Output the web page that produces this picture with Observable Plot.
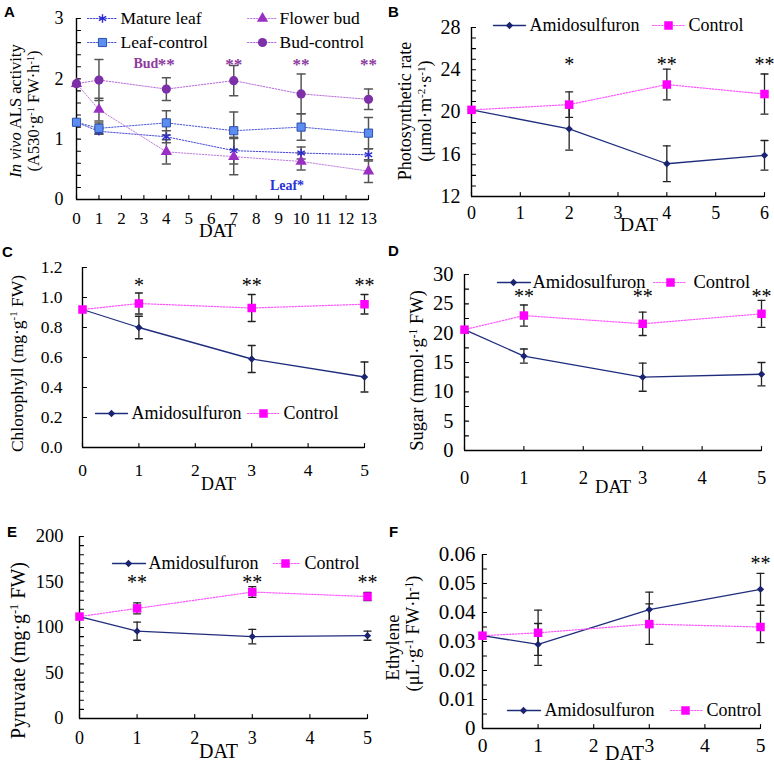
<!DOCTYPE html>
<html>
<head>
<meta charset="utf-8">
<script src="https://cdn.jsdelivr.net/npm/d3@7"></script>
<script src="https://cdn.jsdelivr.net/npm/@observablehq/plot@0.6"></script>
<style>
html,body{margin:0;padding:0;background:#fff;}
#root{position:relative;width:774px;height:764px;overflow:hidden;}
.panel{position:absolute;}
.letter{position:absolute;font-family:"Liberation Sans",Arial,sans-serif;font-weight:bold;font-size:15px;line-height:15px;color:#000;}
</style>
</head>
<body>
<div id="root"></div>
<script>
// ---------------- Panel A : in vivo ALS activity ----------------
const daysA = [0, 1, 4, 7, 10, 13];
const matureLeaf     = [1.28, 1.13, 1.04, 0.81, 0.77, 0.74];
const matureLeafErr  = [0, 0.05, 0.10, 0.22, 0.10, 0.10];
const leafControl    = [1.28, 1.18, 1.27, 1.14, 1.20, 1.10];
const leafControlErr = [0, 0.09, 0.20, 0.31, 0.22, 0.26];
const flowerBud      = [1.92, 1.49, 0.79, 0.71, 0.63, 0.47];
const flowerBudErr   = [0, 0.19, 0.20, 0.30, 0.14, 0.19];
const budControl     = [1.92, 1.98, 1.83, 1.97, 1.75, 1.66];
const budControlErr  = [0, 0.34, 0.19, 0.25, 0.33, 0.17];
const namesA = ["Mature leaf", "Leaf-control", "Flower bud", "Bud-control"];
const xTicksA = [0, 1, 2, 3, 4, 5, 6, 7, 8, 9, 10, 11, 12, 13];
const yTicksA = [0, 1, 2, 3];
const budStarDaysA = [4, 7, 10, 13];
const leafStarDaysA = [10];

// ---------------- Panel B : photosynthetic rate ----------------
const daysB = [0, 2, 4, 6];
const amidoB      = [20.2, 18.4, 15.1, 15.9];
const amidoBErr   = [0, 2.0, 1.7, 1.4];
const controlB    = [20.2, 20.7, 22.6, 21.7];
const controlBErr = [0, 1.2, 1.45, 1.9];
const xTicksB = [0, 1, 2, 3, 4, 5, 6];
const yTicksB = [12, 16, 20, 24, 28];
const starsB = [{x: 2, t: "*"}, {x: 4, t: "**"}, {x: 6, t: "**"}];

// ---------------- Panel C : chlorophyll ----------------
const daysC = [0, 1, 3, 5];
const amidoC      = [0.92, 0.80, 0.59, 0.47];
const amidoCErr   = [0, 0.075, 0.09, 0.10];
const controlC    = [0.92, 0.96, 0.93, 0.955];
const controlCErr = [0, 0.07, 0.09, 0.065];
const xTicksC = [0, 1, 2, 3, 4, 5];
const yTicksC = [0, 0.2, 0.4, 0.6, 0.8, 1.0, 1.2];
const starsC = [{x: 1, t: "*"}, {x: 3, t: "**"}, {x: 5, t: "**"}];

// ---------------- Panel D : sugar ----------------
const daysD = [0, 1, 3, 5];
const amidoD      = [20.6, 16.1, 12.5, 13.0];
const amidoDErr   = [0, 1.2, 2.4, 2.0];
const controlD    = [20.6, 23.0, 21.6, 23.3];
const controlDErr = [0, 1.8, 2.0, 2.3];
const xTicksD = [0, 1, 2, 3, 4, 5];
const yTicksD = [0, 5, 10, 15, 20, 25, 30];
const starsD = [{x: 1, t: "**"}, {x: 3, t: "**"}, {x: 5, t: "**"}];

// ---------------- Panel E : pyruvate ----------------
const daysE = [0, 1, 3, 5];
const amidoE      = [112, 96, 90, 91];
const amidoEErr   = [0, 10, 8, 5];
const controlE    = [112, 121, 139, 134];
const controlEErr = [0, 6, 6, 4.5];
const xTicksE = [0, 1, 2, 3, 4, 5];
const yTicksE = [0, 50, 100, 150, 200];
const starsE = [{x: 1, t: "**"}, {x: 3, t: "**"}, {x: 5, t: "**"}];

// ---------------- Panel F : ethylene ----------------
const daysF = [0, 1, 3, 5];
const amidoF      = [0.032, 0.029, 0.041, 0.048];
const amidoFErr   = [0, 0.0072, 0.006, 0.0055];
const controlF    = [0.032, 0.033, 0.036, 0.035];
const controlFErr = [0, 0.0078, 0.007, 0.0054];
const xTicksF = [0, 1, 2, 3, 4, 5];
const yTicksF = [0, 0.01, 0.02, 0.03, 0.04, 0.05, 0.06];
const starsF = [{x: 5, t: "**"}];

const treatNames = ["Amidosulfuron", "Control"];

// ---------------- helpers ----------------
const tick = {draw(c, l) { c.moveTo(0, 0); c.lineTo(0, -l); }};
const rowsOf = (xs, ys, es) => xs.map((x, i) => ({x, y: ys[i], e: es[i]}));
const FONT = "'Liberation Serif', 'Times New Roman', serif";

function amidoStyle(xs, ys, es) {
  return {name: treatNames[0], x: xs, y: ys, e: es, stroke: "#1f2d7d", width: 1.3, dash: null,
          symbol: "diamond2", r: 3.3, fill: "#1a2470", mstroke: "none", mwidth: 1};
}
function controlStyle(xs, ys, es) {
  return {name: treatNames[1], x: xs, y: ys, e: es, stroke: "#ff55ff", width: 1.2, dash: "1.5,1.5",
          symbol: "square", r: 4.8, fill: "#ff00ff", mstroke: "none", mwidth: 1};
}

function richify(svg) {
  d3.select(svg).selectAll("text").each(function () {
    const t = this.textContent;
    if (!/[\^~]\{/.test(t)) return;
    this.innerHTML = t
      .replace(/\^\{([^}]*)\}/g, '<tspan baseline-shift="super" font-size="0.62em">$1</tspan>')
      .replace(/~\{([^}]*)\}/g, '<tspan font-style="italic">$1</tspan>');
  });
}

function panel(cfg) {
  const x0 = cfg.xDomain[0], y0 = cfg.yDomain[0];
  const fs = cfg.fs; // font sizes
  const ax = {stroke: "#000", strokeWidth: 1.4};
  const marks = [
    Plot.ruleX([x0], ax),
    Plot.ruleY([y0], ax),
    Plot.vector(cfg.yMinor, {x: () => x0, y: d => d, length: 4, rotate: 90, anchor: "start", shape: tick, stroke: "#000", strokeWidth: 1.1}),
    Plot.vector(cfg.xMinor, {x: d => d, y: () => y0, length: 4, rotate: 0, anchor: "start", shape: tick, stroke: "#000", strokeWidth: 1.1}),
    Plot.axisX({ticks: cfg.xTicks, tickSize: 0, tickPadding: cfg.xPad, tickFormat: d => String(d), fontSize: fs.xt, fontFamily: FONT, fill: "#000", label: null}),
    Plot.axisY({ticks: cfg.yTicks, tickSize: 0, tickPadding: cfg.yPad, tickFormat: cfg.yFmt || (d => String(d)), fontSize: fs.yt, fontFamily: FONT, fill: "#000", label: null})
  ];
  const data = cfg.series.map(s => rowsOf(s.x, s.y, s.e));
  const es = {stroke: cfg.errColor, strokeWidth: cfg.errWidth};
  data.forEach(rows => {
    const d = rows.filter(r => r.e > 0);
    marks.push(Plot.ruleX(d, {x: "x", y1: r => r.y - r.e, y2: r => r.y + r.e, ...es}));
    marks.push(Plot.vector(d, {x: "x", y: r => r.y + r.e, length: cfg.cap, rotate: 90, anchor: "middle", shape: tick, ...es}));
    marks.push(Plot.vector(d, {x: "x", y: r => r.y - r.e, length: cfg.cap, rotate: 90, anchor: "middle", shape: tick, ...es}));
  });
  cfg.series.forEach((s, k) => marks.push(Plot.line(data[k], {x: "x", y: "y", stroke: s.stroke, strokeWidth: s.width, strokeDasharray: s.dash || undefined})));
  cfg.series.forEach((s, k) => marks.push(Plot.dot(data[k], {x: "x", y: "y", symbol: s.symbol, r: s.r, fill: s.fill, stroke: s.mstroke, strokeWidth: s.mwidth})));
  // legend (inside the frame)
  cfg.legend.forEach(L => {
    const s = cfg.series[L.k];
    marks.push(Plot.vector([s.name], {frameAnchor: "top-left", dx: L.lx, dy: L.ly, length: L.len, rotate: 90, anchor: "start", shape: tick, stroke: s.stroke, strokeWidth: s.width, strokeDasharray: s.dash || undefined}));
    marks.push(Plot.dot([s.name], {frameAnchor: "top-left", dx: L.mx, dy: L.ly, symbol: s.symbol, r: s.r, fill: s.fill, stroke: s.mstroke, strokeWidth: s.mwidth}));
    marks.push(Plot.text([s.name], {frameAnchor: "top-left", dx: L.tx, dy: L.ly, text: d => d, textAnchor: "start", lineAnchor: "middle", fontSize: fs.lg, fontFamily: FONT, fill: "#000"}));
  });
  // significance stars
  (cfg.stars || []).forEach(st => {
    marks.push(Plot.text(st.data, {x: "x", text: "t", frameAnchor: "top", dy: st.dy, dx: st.dx || 0, textAnchor: st.anchor || "middle",
      lineAnchor: "middle", fontSize: st.size, fontFamily: FONT, fontWeight: st.weight || "normal", fill: st.color || "#000"}));
  });
  // y title lines
  cfg.ylabels.forEach(yl => marks.push(Plot.text([yl.t], {text: d => d, frameAnchor: "left", dx: yl.dx, dy: yl.dy, rotate: -90,
    textAnchor: "middle", lineAnchor: "middle", fontSize: fs.lab, fontFamily: FONT, fill: "#000"})));
  // x title
  marks.push(Plot.text(["DAT"], {text: d => d, frameAnchor: "bottom", dx: cfg.dat[0], dy: cfg.dat[1], textAnchor: "middle", lineAnchor: "middle", fontSize: fs.dat, fontFamily: FONT, fill: "#000"}));

  const svg = Plot.plot({
    width: cfg.w, height: cfg.h,
    marginLeft: cfg.m[0], marginTop: cfg.m[1], marginRight: cfg.m[2], marginBottom: cfg.m[3],
    x: {domain: cfg.xDomain, label: null},
    y: {domain: cfg.yDomain, label: null},
    style: {fontFamily: FONT, fontSize: "17px", background: "transparent", overflow: "visible", color: "#000"},
    marks
  });
  richify(svg);
  const div = document.createElement("div");
  div.className = "panel";
  div.style.left = cfg.left + "px";
  div.style.top = cfg.top + "px";
  div.appendChild(svg);
  document.getElementById("root").appendChild(div);
}

function letter(t, x, y) {
  const d = document.createElement("div");
  d.className = "letter"; d.textContent = t;
  d.style.left = x + "px"; d.style.top = y + "px";
  document.getElementById("root").appendChild(d);
}

// ---------------- build panels ----------------
panel({
  left: 0, top: 0, w: 387, h: 250, m: [76, 18, 19, 51],
  fs: {xt: 17, yt: 18, lab: 16.5, dat: 19, lg: 17.5},
  xDomain: [0, 13], yDomain: [0, 3],
  xTicks: xTicksA, yTicks: yTicksA, xMinor: xTicksA, yMinor: d3.range(0, 3.001, 0.2),
  xPad: 12, yPad: 13,
  errColor: "#555", errWidth: 1.5, cap: 8,
  series: [
    {name: namesA[0], x: daysA, y: matureLeaf, e: matureLeafErr, stroke: "#4646d6", width: 1, dash: "1.5,1.5", symbol: "asterisk", r: 4, fill: "none", mstroke: "#2b2bd0", mwidth: 1.4},
    {name: namesA[1], x: daysA, y: leafControl, e: leafControlErr, stroke: "#4a58d2", width: 1, dash: "1.5,1.5", symbol: "square", r: 4.6, fill: "#5b8ef0", mstroke: "#2f4fb0", mwidth: 1},
    {name: namesA[2], x: daysA, y: flowerBud, e: flowerBudErr, stroke: "#c27ee0", width: 1, dash: "1.5,1.5", symbol: "triangle", r: 4.2, fill: "#9a2fc4", mstroke: "none", mwidth: 1},
    {name: namesA[3], x: daysA, y: budControl, e: budControlErr, stroke: "#b86ad8", width: 1, dash: "1.5,1.5", symbol: "circle", r: 4.6, fill: "#7d30a8", mstroke: "none", mwidth: 1}
  ],
  legend: [
    {k: 0, ly: 0, lx: 11, len: 30, mx: 26, tx: 44},
    {k: 1, ly: 24, lx: 11, len: 30, mx: 26, tx: 44},
    {k: 2, ly: 0, lx: 171, len: 30, mx: 186, tx: 203},
    {k: 3, ly: 24, lx: 171, len: 30, mx: 186, tx: 203}
  ],
  stars: [
    {data: budStarDaysA.map(x => ({x, t: "**"})), dy: 46, size: 17, weight: "bold", color: "#8e3a9e"},
    {data: [{x: budStarDaysA[0], t: "Bud"}], dy: 45, dx: -8, anchor: "end", size: 14, weight: "bold", color: "#8e3a9e"},
    {data: leafStarDaysA.map(x => ({x, t: "Leaf*"})), dy: 167, dx: 3, anchor: "end", size: 14, weight: "bold", color: "#2a33d6"}
  ],
  ylabels: [
    {t: "~{In vivo} ALS activity", dx: -61, dy: 2},
    {t: "(A530·g^{-1} FW·h^{-1})", dx: -43, dy: 2}
  ],
  dat: [-5, 31]
});

panel({
  left: 385, top: 0, w: 389, h: 250, m: [86, 27, 10, 54],
  fs: {xt: 18, yt: 20, lab: 18, dat: 19.5, lg: 18},
  xDomain: [0, 6], yDomain: [12, 28],
  xTicks: xTicksB, yTicks: yTicksB, xMinor: xTicksB, yMinor: d3.range(12, 28.001, 1),
  xPad: 10, yPad: 11,
  errColor: "#222", errWidth: 1.3, cap: 7,
  series: [amidoStyle(daysB, amidoB, amidoBErr), controlStyle(daysB, controlB, controlBErr)],
  legend: [
    {k: 0, ly: -2, lx: 22, len: 32, mx: 38, tx: 58},
    {k: 1, ly: -2, lx: 181, len: 33, mx: 197, tx: 217}
  ],
  stars: [{data: starsB, dy: 37, size: 20}],
  ylabels: [
    {t: "Photosynthetic rate", dx: -66, dy: -1},
    {t: "(μmol·m^{-2}·s^{-1})", dx: -46, dy: -1}
  ],
  dat: [21, 28]
});

panel({
  left: 0, top: 250, w: 387, h: 250, m: [82, 17, 23, 53],
  fs: {xt: 17.5, yt: 17.5, lab: 17.5, dat: 18, lg: 18},
  xDomain: [0, 5], yDomain: [0, 1.2],
  xTicks: xTicksC, yTicks: yTicksC, xMinor: xTicksC, yMinor: yTicksC,
  xPad: 16.5, yPad: 20, yFmt: d3.format(".1f"),
  errColor: "#222", errWidth: 1.3, cap: 7,
  series: [amidoStyle(daysC, amidoC, amidoCErr), controlStyle(daysC, controlC, controlCErr)],
  legend: [
    {k: 0, ly: 146, lx: 13, len: 32, mx: 29, tx: 49},
    {k: 1, ly: 146, lx: 165, len: 31, mx: 181, tx: 201}
  ],
  stars: [{data: starsC, dy: 18, size: 20}],
  ylabels: [{t: "Chlorophyll (mg·g^{-1} FW)", dx: -65, dy: 6}],
  dat: [-5, 37]
});

panel({
  left: 385, top: 250, w: 389, h: 250, m: [79, 24, 13, 50],
  fs: {xt: 18.5, yt: 20.5, lab: 18.5, dat: 18.5, lg: 18.5},
  xDomain: [0, 5], yDomain: [0, 30],
  xTicks: xTicksD, yTicks: yTicksD, xMinor: xTicksD, yMinor: d3.range(0, 30.001, 2.5),
  xPad: 20, yPad: 11,
  errColor: "#222", errWidth: 1.3, cap: 7,
  series: [amidoStyle(daysD, amidoD, amidoDErr), controlStyle(daysD, controlD, controlDErr)],
  legend: [
    {k: 0, ly: 8, lx: 33, len: 33, mx: 49, tx: 68},
    {k: 1, ly: 8, lx: 189, len: 33, mx: 206, tx: 229}
  ],
  stars: [{data: starsD, dy: 22, size: 20}],
  ylabels: [{t: "Sugar (mmol·g^{-1} FW)", dx: -47, dy: 8}],
  dat: [0, 37]
});

panel({
  left: 0, top: 500, w: 387, h: 264, m: [79, 36, 20, 46],
  fs: {xt: 18, yt: 18.5, lab: 20, dat: 20, lg: 18},
  xDomain: [0, 5], yDomain: [0, 200],
  xTicks: xTicksE, yTicks: yTicksE, xMinor: xTicksE, yMinor: d3.range(0, 200.001, 10),
  xPad: 13, yPad: 16,
  errColor: "#222", errWidth: 1.3, cap: 7,
  series: [amidoStyle(daysE, amidoE, amidoEErr), controlStyle(daysE, controlE, controlEErr)],
  legend: [
    {k: 0, ly: 27, lx: 33, len: 33, mx: 49, tx: 69},
    {k: 1, ly: 27, lx: 194, len: 27, mx: 206, tx: 225}
  ],
  stars: [{data: starsE, dy: 46, size: 20}],
  ylabels: [{t: "Pyruvate (mg·g^{-1} FW)", dx: -61, dy: 23}],
  dat: [-5, 33]
});

panel({
  left: 385, top: 500, w: 389, h: 264, m: [97, 54, 14, 36],
  fs: {xt: 19.5, yt: 21, lab: 18.5, dat: 20, lg: 18},
  xDomain: [0, 5], yDomain: [0, 0.06],
  xTicks: xTicksF, yTicks: yTicksF, xMinor: xTicksF, yMinor: d3.range(0, 0.0601, 0.005),
  xPad: 9.5, yPad: 7, yFmt: d => d === 0 ? "0" : d.toFixed(2),
  errColor: "#222", errWidth: 1.3, cap: 7,
  series: [amidoStyle(daysF, amidoF, amidoFErr), controlStyle(daysF, controlF, controlFErr)],
  legend: [
    {k: 0, ly: 156, lx: 25, len: 33, mx: 41, tx: 62},
    {k: 1, ly: 156, lx: 188, len: 32, mx: 203, tx: 224}
  ],
  stars: [{data: starsF, dy: 9, size: 20}],
  ylabels: [
    {t: "Ethylene", dx: -89, dy: 6},
    {t: "(μL·g^{-1} FW·h^{-1})", dx: -69, dy: -8}
  ],
  dat: [3, 25]
});

letter("A", 4, 4);
letter("B", 388, 4);
letter("C", 2, 244);
letter("D", 388, 243);
letter("E", 7, 524);
letter("F", 389, 524);
</script>
</body>
</html>
